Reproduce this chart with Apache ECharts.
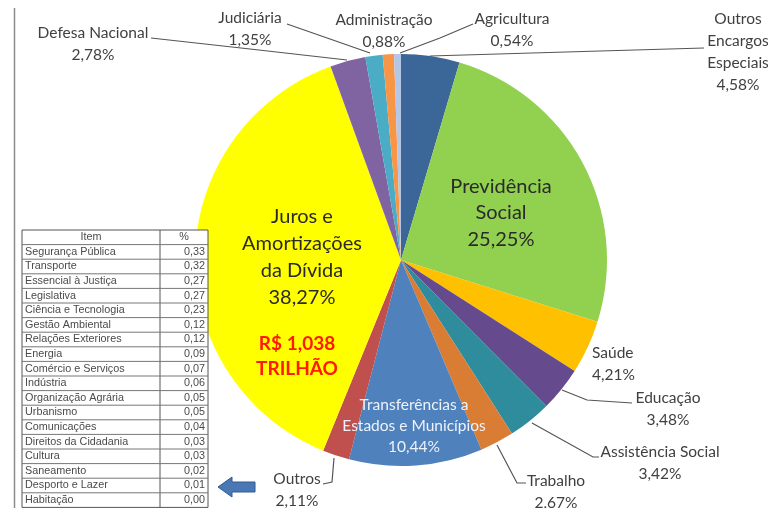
<!DOCTYPE html>
<html>
<head>
<meta charset="utf-8">
<script src="https://cdn.jsdelivr.net/npm/echarts@6/dist/echarts.min.js"></script>
<style>
  html, body { margin: 0; padding: 0; background: #fff; }
  #grafico { width: 768px; height: 508px; }
</style>
</head>
<body>
<div id="grafico"></div>
<script>
// funções do orçamento, na ordem do gráfico (sentido horário a partir do topo)
const funcoes = ['Outros\nEncargos\nEspeciais', 'Previdência\nSocial', 'Saúde', 'Educação', 'Assistência Social',
  'Trabalho', 'Transferências a\nEstados e Municípios', 'Outros', 'Juros e\nAmortizações\nda Dívida',
  'Defesa Nacional', 'Judiciária', 'Administração', 'Agricultura']
const percentuais = [4.58, 25.25, 4.21, 3.48, 3.42, 2.67, 10.44, 2.11, 38.27, 2.78, 1.35, 0.88, 0.54]
const cores = ['#3b6698', '#92d050', '#ffc000', '#664a8e', '#2f8c9c', '#d97c34', '#4f81bd', '#c0504d',
  '#ffff00', '#8064a2', '#4bacc6', '#f79646', '#b4c7e7']
const totalJuros = 'R$ 1,038\nTRILHÃO'

// tabela dos itens menores ("Outros")
const itensTabela = ['Segurança Pública', 'Transporte', 'Essencial à Justiça', 'Legislativa', 'Ciência e Tecnologia',
  'Gestão Ambiental', 'Relações Exteriores', 'Energia', 'Comércio e Serviços', 'Indústria', 'Organização Agrária',
  'Urbanismo', 'Comunicações', 'Direitos da Cidadania', 'Cultura', 'Saneamento', 'Desporto e Lazer', 'Habitação']
const percTabela = [0.33, 0.32, 0.27, 0.27, 0.23, 0.12, 0.12, 0.09, 0.07, 0.06, 0.05, 0.05, 0.04, 0.03, 0.03, 0.02, 0.01, 0.00]

const fmt = v => v.toFixed(2).replace('.', ',')

// onde fica cada rótulo (layout, igual ao slide original)
const rotulos = [
  { x: 738, y: 52, linha: [[430, 56], [600, 51], [704, 48]] },
  { x: 501, y: 213 },
  { x: 592, y: 364, align: 'left' },
  { x: 668, y: 409, linha: [[562, 390], [587, 400], [632, 403]] },
  { x: 660, y: 463, linha: [[532, 423], [593, 457], [599, 457]] },
  { x: 556, y: 492, linha: [[497, 445], [517, 483], [526, 483]] },
  { x: 414, y: 426 },
  { x: 297, y: 490, linha: [[334, 458], [332, 482], [323, 484]] },
  { x: 302, y: 257 },
  { x: 93, y: 44, linha: [[347, 60], [250, 49], [151, 38]] },
  { x: 250, y: 29, linha: [[370, 53], [330, 39], [287, 24]] },
  { x: 384, y: 31 },
  { x: 512, y: 30, linha: [[400, 53], [440, 38], [473, 24]] }
]

const dentro = { 1: { cor: '#2a2a2a', tam: 20, lh: 26.5 }, 8: { cor: '#2a2a2a', tam: 20, lh: 27 }, 6: { cor: '#eef2f9', tam: 15.5, lh: 21 } }

const dados = percentuais.map((v, i) => {
  const d = dentro[i]
  return {
    value: v,
    name: funcoes[i],
    itemStyle: { color: cores[i] },
    label: d ? { color: d.cor, fontSize: d.tam, lineHeight: d.lh } : {},
    labelLine: { show: !!rotulos[i].linha }
  }
})

// tabela desenhada com elementos gráficos
const tab = { x0: 22, x1: 160, x2: 208, y0: 230, h: 14.6 }
const elTabela = []
const nLinhas = itensTabela.length + 1
elTabela.push({ type: 'rect', z: 100, shape: { x: tab.x0, y: tab.y0, width: tab.x2 - tab.x0, height: nLinhas * tab.h },
  style: { fill: '#fff', stroke: '#555', lineWidth: 1 } })
elTabela.push({ type: 'line', z: 101, shape: { x1: tab.x1, y1: tab.y0, x2: tab.x1, y2: tab.y0 + nLinhas * tab.h },
  style: { stroke: '#555', lineWidth: 1 } })
for (let i = 1; i < nLinhas; i++) {
  elTabela.push({ type: 'line', z: 101, shape: { x1: tab.x0, y1: tab.y0 + i * tab.h, x2: tab.x2, y2: tab.y0 + i * tab.h },
    style: { stroke: '#777', lineWidth: 1 } })
}
const estiloTab = { font: '10.8px "Liberation Sans", Arial', fill: '#4a4a4a', verticalAlign: 'middle' }
elTabela.push({ type: 'text', z: 102, style: Object.assign({}, estiloTab, { text: 'Item', x: (tab.x0 + tab.x1) / 2, y: tab.y0 + tab.h / 2, align: 'center' }) })
elTabela.push({ type: 'text', z: 102, style: Object.assign({}, estiloTab, { text: '%', x: (tab.x1 + tab.x2) / 2, y: tab.y0 + tab.h / 2, align: 'center' }) })
itensTabela.forEach((nome, i) => {
  const yc = tab.y0 + (i + 1.5) * tab.h
  elTabela.push({ type: 'text', z: 102, style: Object.assign({}, estiloTab, { text: nome, x: tab.x0 + 3, y: yc, align: 'left' }) })
  elTabela.push({ type: 'text', z: 102, style: Object.assign({}, estiloTab, { text: fmt(percTabela[i]), x: tab.x2 - 3, y: yc, align: 'right' }) })
})

const grafico = echarts.init(document.getElementById('grafico'))
grafico.setOption({
  animation: false,
  textStyle: { fontFamily: 'Lato, "Open Sans", sans-serif' },
  graphic: [
    { type: 'line', z: 100, shape: { x1: 14.5, y1: 8, x2: 14.5, y2: 508 }, style: { stroke: '#8c8c8c', lineWidth: 1.5 } },
    ...elTabela,
    { type: 'polygon', z: 100, shape: { points: [[218, 487], [232, 477], [232, 482], [255, 482], [255, 492], [232, 492], [232, 497]] },
      style: { fill: '#4a78b5', stroke: '#2f5a94', lineWidth: 1 } },
    { type: 'text', z: 100, style: { text: totalJuros, x: 297, y: 356, align: 'center', verticalAlign: 'middle',
      font: 'bold 19px Lato, sans-serif', fill: '#ff1a00', lineHeight: 25 } }
  ],
  series: [{
    type: 'pie',
    center: [401, 260],
    radius: 206,
    startAngle: 90,
    clockwise: true,
    avoidLabelOverlap: false,
    emphasis: { disabled: true },
    label: {
      show: true,
      position: 'outside',
      fontSize: 15.5,
      lineHeight: 22,
      color: '#404040',
      formatter: p => p.name + '\n' + fmt(p.value) + '%'
    },
    labelLine: { show: true, length: 10, length2: 10, lineStyle: { color: '#555', width: 1.2 } },
    labelLayout: p => {
      const r = rotulos[p.dataIndex]
      const out = { x: r.x, y: r.y, align: r.align || 'center', verticalAlign: 'middle' }
      if (r.linha) out.labelLinePoints = r.linha
      return out
    },
    data: dados
  }]
})
</script>
</body>
</html>
